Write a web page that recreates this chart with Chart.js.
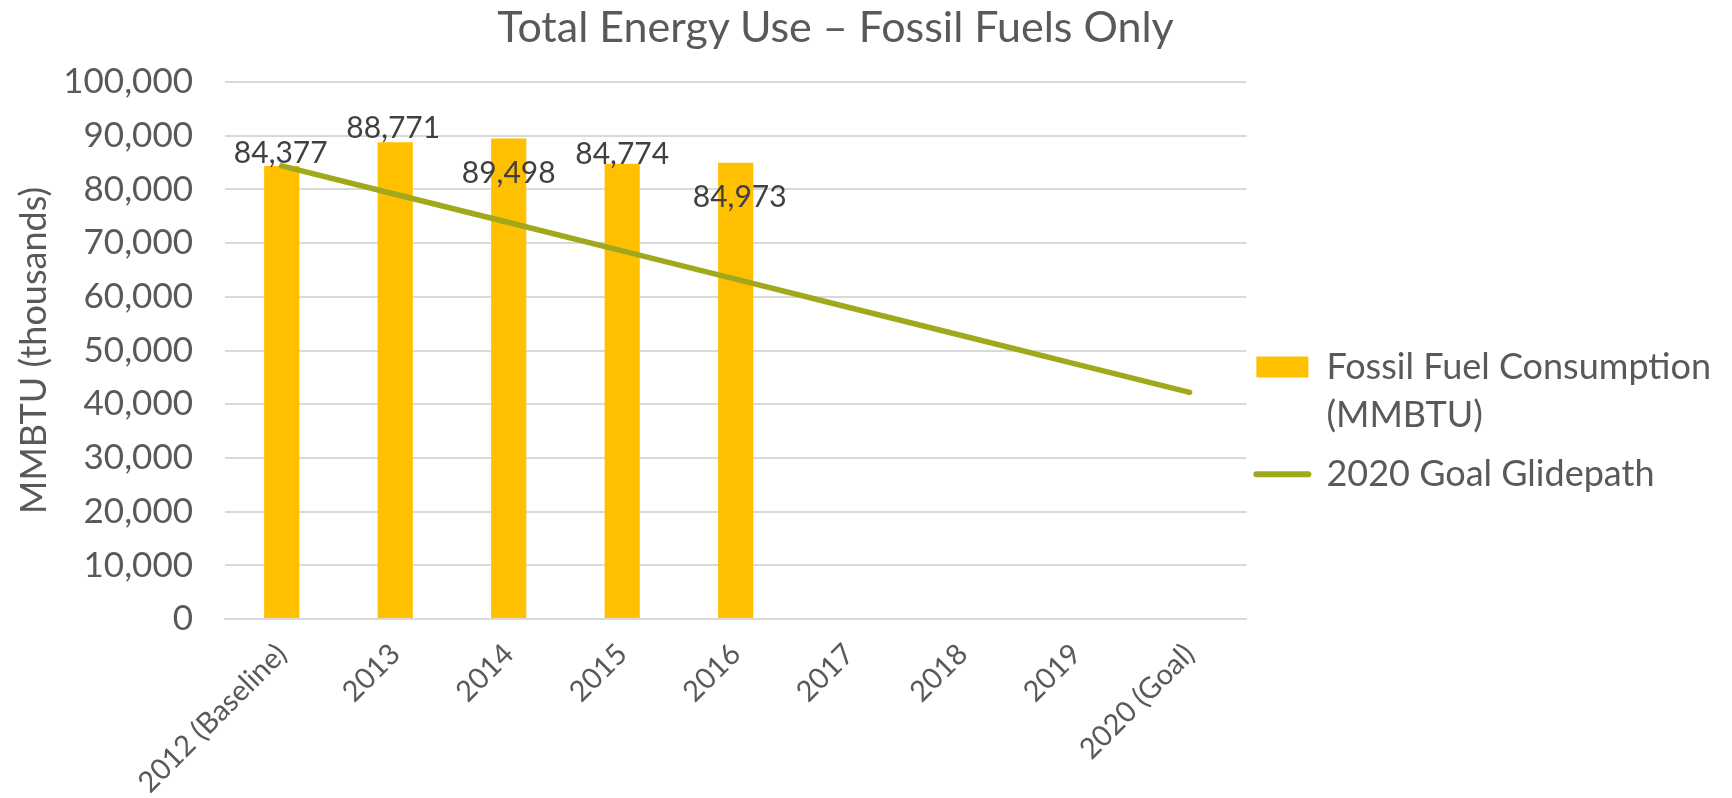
<!DOCTYPE html>
<html>
<head>
<meta charset="utf-8">
<title>Total Energy Use – Fossil Fuels Only</title>
<script src="https://cdn.jsdelivr.net/npm/chart.js@4.4.1/dist/chart.umd.min.js"></script>
<style>
  html, body { margin: 0; padding: 0; background: #fff; }
  #wrap { position: relative; width: 1732px; height: 798px; }
  #title {
    position: absolute; left: 0; top: 4px; width: 1671px;
    text-align: center; font: 43px/43px Lato, sans-serif; color: #595959;
  }
</style>
</head>
<body>
<div id="wrap">
  <canvas id="energy" width="1732" height="798"></canvas>
  <div id="title">Total Energy Use – Fossil Fuels Only</div>
</div>
<script>
// categories
var years = ['2012 (Baseline)', '2013', '2014', '2015', '2016', '2017', '2018', '2019', '2020 (Goal)'];

// series values (MMBTU, thousands)
var consumption = [84377, 88771, 89498, 84774, 84973, null, null, null, null];
var glidepath = [84377, 79100, 73830, 68560, 63280, 58010, 52740, 47460, 42190];

// y axis ticks
var yMin = 0;
var yMax = 100000;
var yStep = 10000;

// where each value label sits relative to its bar top (px)
var labelShiftX = [-1, -2, 0, 0, 4];
var labelShiftY = [-3, -4, 45, 0, 44];

var barColor = '#FFC000';
var lineColor = '#A2A81C';
var textColor = '#595959';
var gridColor = '#D9D9D9';

var valueLabels = {
  id: 'valueLabels',
  afterDatasetsDraw: function(chart) {
    var ctx = chart.ctx;
    var meta = chart.getDatasetMeta(0);
    ctx.save();
    ctx.font = '30px Lato';
    ctx.fillStyle = '#404040';
    ctx.textAlign = 'center';
    ctx.textBaseline = 'alphabetic';
    meta.data.forEach(function(bar, i) {
      var v = consumption[i];
      if (v == null) return;
      ctx.fillText(v.toLocaleString('en-US'), bar.x + labelShiftX[i], bar.y + labelShiftY[i]);
    });
    ctx.restore();
  }
};

var ctx = document.getElementById('energy').getContext('2d');
var myChart = new Chart(ctx, {
    type: 'bar',
    data: {
        labels: years,
        datasets: [{
            label: 'Fossil Fuel Consumption (MMBTU)',
            data: consumption,
            backgroundColor: barColor,
            barPercentage: 0.31,
            categoryPercentage: 1,
            order: 1
        }, {
            type: 'line',
            label: '2020 Goal Glidepath',
            data: glidepath,
            borderColor: lineColor,
            backgroundColor: lineColor,
            borderWidth: 5.5,
            borderCapStyle: 'round',
            pointRadius: 0,
            tension: 0,
            order: 0
        }]
    },
    options: {
        responsive: false,
        animation: false,
        layout: { padding: { top: 82, right: 11, bottom: 0, left: 0 } },
        plugins: {
            title: { display: false },
            tooltip: { enabled: false },
            legend: {
                position: 'right',
                align: 'start',
                maxWidth: 500,
                title: { display: true, text: '', padding: { top: 247, bottom: 0 }, font: { size: 10, lineHeight: 1 } },
                labels: {
                    usePointStyle: true,
                    pointStyleWidth: 52,
                    boxHeight: 21,
                    padding: 10,
                    color: textColor,
                    font: { family: 'Lato', size: 36, lineHeight: 1.35 },
                    generateLabels: function(chart) {
                        return [{
                            text: ['Fossil Fuel Consumption', '(MMBTU)'],
                            fillStyle: barColor,
                            strokeStyle: barColor,
                            lineWidth: 0,
                            pointStyle: 'rect',
                            fontColor: textColor,
                            datasetIndex: 0
                        }, {
                            text: '2020 Goal Glidepath',
                            fillStyle: lineColor,
                            strokeStyle: lineColor,
                            lineWidth: 6,
                            lineCap: 'round',
                            pointStyle: 'line',
                            fontColor: textColor,
                            datasetIndex: 1
                        }];
                    }
                }
            }
        },
        scales: {
            x: {
                grid: { display: false },
                border: { display: true, color: gridColor, width: 2 },
                ticks: {
                    color: textColor,
                    font: { family: 'Lato', size: 29 },
                    minRotation: 45,
                    maxRotation: 45,
                    autoSkip: false,
                    padding: 10
                },
                afterFit: function(scale) { scale.height = 179; }
            },
            y: {
                min: yMin,
                max: yMax,
                grid: { color: gridColor, lineWidth: 2, drawTicks: false },
                border: { display: false },
                ticks: {
                    stepSize: yStep,
                    color: textColor,
                    font: { family: 'Lato', size: 35 },
                    padding: 32,
                    callback: function(v) { return v.toLocaleString('en-US'); }
                },
                title: {
                    display: true,
                    text: 'MMBTU (thousands)',
                    color: textColor,
                    font: { family: 'Lato', size: 36 },
                    padding: { top: 13, bottom: 8 }
                },
                afterFit: function(scale) { scale.width = 225; }
            }
        }
    },
    plugins: [valueLabels]
});
</script>
</body>
</html>
